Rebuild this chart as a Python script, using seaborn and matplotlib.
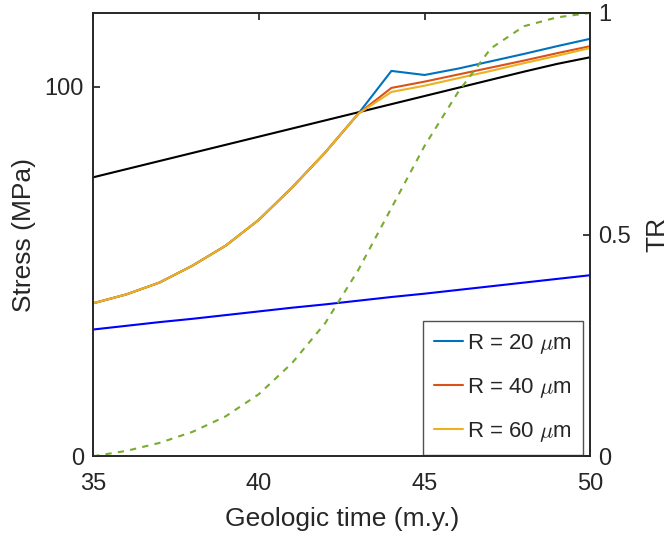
import numpy as np
import pandas as pd
import matplotlib.pyplot as plt
import seaborn as sns

sns.set_theme(style='white')
plt.rcParams['font.family'] = ['Liberation Sans', 'DejaVu Sans']
plt.rcParams['mathtext.fontset'] = 'cm'

# datos
time = [35, 36, 37, 38, 39, 40, 41, 42, 43, 44, 45, 46, 47, 48, 49, 50]
stress_r20 = [41.4, 43.8, 47.0, 51.6, 57.0, 64.0, 72.7, 82.2, 92.7, 104.3, 103.2, 104.9, 106.9, 108.9, 111.0, 113.0]
stress_r40 = [41.4, 43.8, 47.0, 51.6, 57.0, 64.0, 72.7, 82.2, 92.7, 99.7, 101.4, 103.3, 105.2, 107.1, 109.1, 111.0]
stress_r60 = [41.4, 43.8, 47.0, 51.6, 57.0, 64.0, 72.7, 82.2, 92.7, 98.6, 100.3, 102.3, 104.3, 106.4, 108.4, 110.5]
stress_black = [75.5, 77.7, 79.9, 82.1, 84.3, 86.5, 88.7, 90.9, 93.1, 95.3, 97.5, 99.7, 101.9, 104.1, 106.2, 108.0]
stress_blue = [34.3, 35.3, 36.3, 37.2, 38.2, 39.2, 40.2, 41.1, 42.1, 43.1, 44.0, 45.0, 46.0, 47.0, 48.0, 49.0]
tr = [0.0, 0.012, 0.03, 0.055, 0.09, 0.14, 0.21, 0.30, 0.42, 0.56, 0.70, 0.82, 0.92, 0.97, 0.99, 1.0]

labels = ['R = 20 $\\mu$m', 'R = 40 $\\mu$m', 'R = 60 $\\mu$m']
colors = ['#0072BD', '#D95319', '#EDB120']

df = pd.DataFrame({
    'time': time * 3,
    'stress': stress_r20 + stress_r40 + stress_r60,
    'R': [labels[0]] * len(time) + [labels[1]] * len(time) + [labels[2]] * len(time),
})

txt = '#262626'

fig = plt.figure(figsize=(6.7, 5.38), dpi=100)
ax = fig.add_axes([0.139, 0.152, 0.742, 0.824])

ax.plot(time, stress_black, color='black', lw=1.5)
ax.plot(time, stress_blue, color='#0000FF', lw=1.5)
sns.lineplot(data=df, x='time', y='stress', hue='R', palette=colors, lw=1.5, ax=ax)

ax.set_xlim(35, 50)
ax.set_ylim(0, 120)
ax.set_xticks([35, 40, 45, 50])
ax.set_yticks([0, 100])
ax.set_xlabel('Geologic time (m.y.)', fontsize=19, color=txt, labelpad=9)
ax.set_ylabel('Stress (MPa)', fontsize=19, color=txt, labelpad=6)
ax.tick_params(axis='x', direction='in', labelsize=17, length=5, top=True, colors=txt, pad=12)
ax.tick_params(axis='y', direction='in', labelsize=17, length=5, right=False, colors=txt, pad=6.5)

ax2 = ax.twinx()
ax2.plot(time, tr, color='#77AC30', lw=1.5, ls=(0, (3, 3)))
ax2.set_ylim(0, 1)
ax2.set_yticks([0, 0.5, 1])
ax2.set_yticklabels(['0', '0.5', '1'])
ax2.set_ylabel('TR', fontsize=19, color=txt, labelpad=10)
ax2.tick_params(direction='in', labelsize=17, length=5, colors=txt, pad=6)

for a in (ax, ax2):
    for s in a.spines.values():
        s.set_color(txt)
        s.set_linewidth(1.2)

leg = ax.legend(loc='lower right', bbox_to_anchor=(0.986, 0.002), fontsize=16,
                frameon=True, fancybox=False, edgecolor=txt, handlelength=1.3,
                handletextpad=0.2, labelspacing=0.9, borderpad=0.5,
                borderaxespad=0)
leg.get_frame().set_linewidth(1.0)
for t in leg.get_texts():
    t.set_color(txt)

fig.savefig('out.png', dpi=100)
